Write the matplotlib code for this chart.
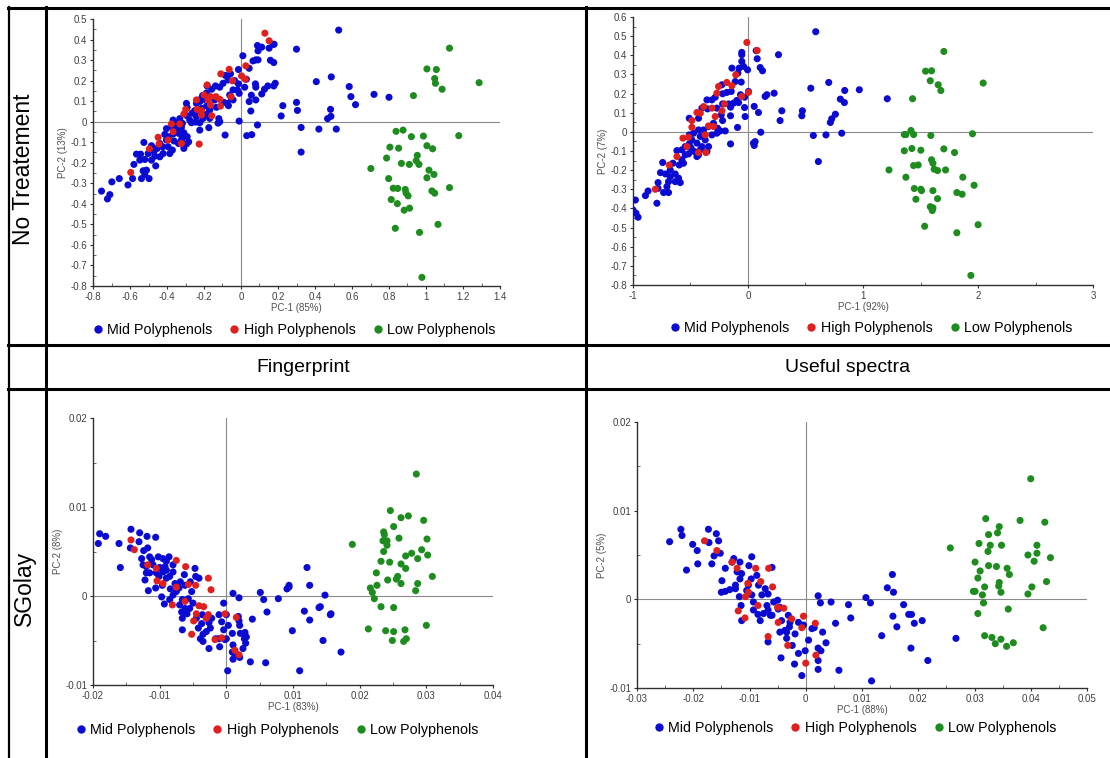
import numpy as np
import matplotlib
matplotlib.use("Agg")
import matplotlib.pyplot as plt
from matplotlib.lines import Line2D
from matplotlib.ticker import MultipleLocator, FuncFormatter

plt.rcParams['font.family'] = ['Liberation Sans', 'DejaVu Sans']

W, H = 1110, 758

# ---------------- data ----------------
groups = ["Mid Polyphenols", "High Polyphenols", "Low Polyphenols"]
colors = ["#0a0ad2", "#e0201e", "#1e8c1e"]
row_labels = ["No Treatement", "SGolay"]
col_labels = ["Fingerprint", "Useful spectra"]
x_titles = ["PC-1 (85%)", "PC-1 (92%)", "PC-1 (83%)", "PC-1 (88%)"]
y_titles = ["PC-2 (13%)", "PC-2 (7%)", "PC-2 (8%)", "PC-2 (5%)"]

# No treatment, fingerprint region (x, y)
nt_fp_mid = [
    (0.528, 0.446), (0.300, 0.353), (0.407, 0.195), (0.488, 0.218), (0.585, 0.171), (0.594, 0.122),
    (0.619, 0.083), (0.719, 0.133), (0.800, 0.119), (0.300, 0.094), (0.305, 0.055), (0.226, 0.078),
    (0.217, 0.028), (0.484, 0.060), (0.486, 0.026), (0.468, 0.015), (0.325, -0.028), (0.421, -0.036),
    (0.515, -0.036), (0.325, -0.148), (0.089, -0.016), (0.031, -0.068), (0.058, -0.063), (-0.010, 0.003),
    (-0.086, -0.065), (0.179, 0.377), (0.089, 0.371), (0.112, 0.363), (0.092, 0.345), (0.152, 0.358),
    (0.174, 0.377), (0.010, 0.321), (0.080, 0.301), (0.092, 0.301), (0.065, 0.296), (0.159, 0.299),
    (0.177, 0.288), (0.044, 0.260), (-0.014, 0.254), (-0.057, 0.233), (-0.084, 0.225), (-0.034, 0.200),
    (-0.014, 0.184), (0.020, 0.168), (0.029, 0.207), (0.078, 0.184), (0.080, 0.168), (0.127, 0.158),
    (0.145, 0.174), (0.185, 0.187), (0.177, 0.174), (0.112, 0.135), (0.056, 0.129), (0.080, 0.106),
    (0.044, 0.098), (0.053, 0.052), (-0.070, 0.203), (-0.097, 0.187), (-0.115, 0.168), (-0.138, 0.174),
    (-0.158, 0.158), (-0.019, 0.154), (-0.010, 0.138), (-0.061, 0.130), (-0.075, 0.089), (-0.068, 0.078),
    (-0.052, 0.112), (-0.183, 0.174), (-0.186, 0.140), (-0.201, 0.109), (-0.241, 0.089), (-0.221, 0.099),
    (-0.142, 0.106), (-0.186, 0.076), (-0.223, 0.057), (-0.250, 0.054), (-0.223, 0.041), (-0.192, 0.033),
    (-0.178, 0.041), (-0.205, 0.016), (-0.169, 0.016), (-0.120, 0.015), (-0.124, -0.007), (-0.115, 0.000),
    (-0.174, -0.029), (-0.223, -0.005), (-0.245, -0.002), (-0.268, -0.005), (-0.291, 0.028), (-0.295, 0.089),
    (-0.291, 0.068), (-0.265, 0.041), (-0.317, -0.008), (-0.331, 0.015), (-0.349, -0.005), (-0.367, 0.008),
    (-0.322, -0.028), (-0.349, -0.033), (-0.374, -0.024), (-0.403, -0.034), (-0.412, -0.062), (-0.392, -0.073),
    (-0.367, -0.060), (-0.336, -0.057), (-0.309, -0.054), (-0.291, -0.073), (-0.283, -0.098), (-0.317, -0.076),
    (-0.338, -0.106), (-0.309, -0.130), (-0.362, -0.094), (-0.403, -0.089), (-0.423, -0.122), (-0.439, -0.106),
    (-0.385, -0.155), (-0.453, -0.130), (-0.484, -0.117), (-0.471, -0.146), (-0.466, -0.168), (-0.484, -0.187),
    (-0.461, -0.215), (-0.502, -0.155), (-0.525, -0.101), (-0.543, -0.158), (-0.520, -0.184), (-0.529, -0.239),
    (-0.511, -0.236), (-0.520, -0.257), (-0.497, -0.277), (-0.538, -0.277), (-0.579, -0.208), (-0.586, -0.277),
    (-0.611, -0.308), (-0.658, -0.277), (-0.698, -0.293), (-0.709, -0.355), (-0.722, -0.376), (-0.754, -0.338),
    (-0.565, -0.158), (-0.547, -0.187), (-0.241, 0.024), (-0.277, 0.008), (-0.214, 0.065), (-0.169, 0.057),
    (-0.133, 0.070), (-0.208, 0.127), (-0.226, 0.106), (-0.093, 0.094), (-0.043, 0.155), (-0.043, 0.106),
    (-0.223, -0.041), (-0.371, -0.138), (-0.421, -0.155), (-0.394, -0.122), (-0.439, -0.171), (-0.322, -0.089),
    (-0.295, -0.109),
]
nt_fp_high = [
    (0.129, 0.431), (0.152, 0.394), (0.026, 0.272), (0.003, 0.223), (0.023, 0.207), (-0.064, 0.255),
    (-0.109, 0.233), (-0.046, 0.199), (-0.183, 0.179), (-0.199, 0.130), (-0.165, 0.122), (-0.136, 0.122),
    (-0.115, 0.109), (-0.111, 0.076), (-0.054, 0.122), (-0.241, 0.106), (-0.237, 0.060), (-0.214, 0.054),
    (-0.299, 0.060), (-0.309, 0.037), (-0.165, 0.081), (-0.214, 0.033), (-0.158, 0.029), (-0.376, -0.011),
    (-0.331, -0.011), (-0.367, -0.049), (-0.394, -0.089), (-0.448, -0.076), (-0.443, -0.109), (-0.495, -0.132),
    (-0.322, -0.106), (-0.226, -0.109), (-0.596, -0.247), (-0.178, 0.106),
]
nt_fp_low = [
    (1.127, 0.358), (1.005, 0.257), (1.056, 0.254), (1.047, 0.210), (1.051, 0.187), (1.087, 0.158),
    (1.287, 0.190), (0.932, 0.127), (0.838, -0.047), (0.876, -0.041), (0.986, -0.070), (0.921, -0.073),
    (1.177, -0.068), (1.005, -0.117), (1.036, -0.132), (0.805, -0.124), (0.852, -0.129), (0.787, -0.177),
    (0.953, -0.164), (0.947, -0.190), (0.962, -0.208), (0.867, -0.203), (0.910, -0.208), (0.702, -0.228),
    (1.016, -0.236), (1.043, -0.257), (0.798, -0.277), (1.005, -0.273), (0.823, -0.324), (0.847, -0.325),
    (0.888, -0.330), (0.892, -0.347), (0.903, -0.361), (1.032, -0.337), (1.047, -0.348), (1.127, -0.321),
    (0.812, -0.379), (0.845, -0.399), (0.911, -0.421), (0.882, -0.431), (0.834, -0.519), (0.965, -0.539),
    (1.065, -0.500), (0.978, -0.758),
]

# No treatment, useful spectra (x, y)
nt_us_mid = [
    (0.589, 0.523), (0.265, 0.403), (0.546, 0.228), (0.702, 0.258), (0.841, 0.216), (0.968, 0.220),
    (0.803, 0.171), (0.838, 0.153), (0.760, 0.092), (0.728, 0.068), (0.716, 0.049), (0.473, 0.110),
    (0.468, 0.084), (0.294, 0.110), (0.279, 0.059), (1.211, 0.173), (0.568, -0.019), (0.678, -0.016),
    (0.815, -0.007), (0.612, -0.155), (0.111, -0.002), (0.062, -0.051), (0.054, -0.071), (0.048, -0.059),
    (0.227, 0.202), (0.164, 0.194), (0.149, 0.185), (0.091, 0.101), (0.054, 0.133), (-0.025, 0.080),
    (-0.091, 0.023), (-0.152, -0.063), (0.071, 0.424), (0.080, 0.382), (0.106, 0.336), (0.126, 0.319),
    (-0.054, 0.415), (-0.054, 0.403), (-0.054, 0.368), (-0.039, 0.342), (-0.004, 0.324), (-0.140, 0.333),
    (-0.077, 0.333), (-0.088, 0.307), (-0.111, 0.263), (-0.059, 0.260), (0.004, 0.211), (-0.065, 0.194),
    (-0.146, 0.211), (-0.184, 0.206), (-0.227, 0.246), (-0.221, 0.199), (-0.030, 0.181), (-0.097, 0.164),
    (-0.082, 0.153), (-0.126, 0.150), (-0.169, 0.146), (-0.221, 0.146), (-0.285, 0.181), (-0.314, 0.167),
    (-0.357, 0.167), (-0.401, 0.124), (-0.352, 0.120), (-0.271, 0.124), (-0.233, 0.089), (-0.152, 0.129),
    (-0.152, 0.084), (-0.030, 0.127), (-0.221, 0.059), (-0.265, 0.019), (-0.242, 0.005), (-0.198, 0.005),
    (-0.300, 0.045), (-0.343, 0.028), (-0.386, 0.010), (-0.430, 0.071), (-0.511, 0.071), (-0.430, 0.010),
    (-0.473, -0.007), (-0.415, -0.024), (-0.488, -0.042), (-0.444, -0.059), (-0.511, -0.063), (-0.546, -0.077),
    (-0.494, -0.085), (-0.415, -0.094), (-0.430, -0.120), (-0.517, -0.115), (-0.575, -0.094), (-0.546, -0.120),
    (-0.618, -0.098), (-0.575, -0.146), (-0.598, -0.173), (-0.561, -0.164), (-0.653, -0.164), (-0.676, -0.199),
    (-0.742, -0.160), (-0.761, -0.213), (-0.717, -0.220), (-0.676, -0.234), (-0.633, -0.220), (-0.604, -0.242),
    (-0.589, -0.265), (-0.633, -0.260), (-0.691, -0.260), (-0.782, -0.265), (-0.705, -0.286), (-0.782, -0.295),
    (-0.734, -0.317), (-0.691, -0.317), (-0.792, -0.373), (-0.869, -0.309), (-0.892, -0.333), (-0.979, -0.356),
    (-1.000, -0.408), (-0.974, -0.425), (-0.956, -0.446), (-0.372, -0.042), (-0.343, -0.077), (-0.444, -0.129),
    (-0.517, -0.077), (-0.465, -0.103), (-0.401, -0.077), (-0.357, -0.103), (-0.511, -0.016), (-0.271, -0.007),
    (-0.314, -0.016),
]
nt_us_high = [
    (-0.010, 0.467), (0.080, 0.425), (-0.106, 0.298), (-0.184, 0.258), (-0.256, 0.237), (-0.271, 0.202),
    (-0.140, 0.241), (-0.054, 0.185), (0.004, 0.206), (-0.204, 0.146), (-0.314, 0.124), (-0.386, 0.132),
    (-0.444, 0.101), (-0.415, 0.098), (-0.227, 0.110), (-0.285, 0.080), (-0.300, 0.028), (-0.343, 0.031),
    (-0.488, 0.024), (-0.372, -0.016), (-0.517, -0.028), (-0.566, -0.033), (-0.531, -0.077), (-0.366, -0.108),
    (-0.618, -0.129), (-0.685, -0.173), (-0.806, -0.300), (-0.430, -0.108), (-0.488, 0.059),
]
nt_us_low = [
    (1.703, 0.420), (1.544, 0.317), (1.596, 0.319), (1.585, 0.267), (1.654, 0.246), (1.677, 0.216),
    (2.045, 0.255), (1.431, 0.173), (1.417, 0.007), (1.359, -0.014), (1.373, -0.014), (1.440, -0.014),
    (1.590, -0.019), (1.952, -0.010), (1.359, -0.099), (1.425, -0.087), (1.503, -0.096), (1.703, -0.089),
    (1.796, -0.108), (1.440, -0.176), (1.480, -0.173), (1.596, -0.146), (1.608, -0.164), (1.619, -0.195),
    (1.648, -0.202), (1.718, -0.199), (1.226, -0.199), (1.373, -0.237), (1.868, -0.237), (1.966, -0.279),
    (1.446, -0.296), (1.503, -0.300), (1.509, -0.307), (1.608, -0.307), (1.816, -0.317), (1.862, -0.326),
    (1.460, -0.352), (1.648, -0.349), (1.585, -0.391), (1.608, -0.397), (1.602, -0.411), (1.536, -0.493),
    (2.001, -0.485), (1.816, -0.527), (1.938, -0.750),
]

# SGolay scores are listed in units of 1e-3
SG_UNIT = 1e-3

sg_fp_mid = [
    (12.1, 3.2), (12.5, 1.2), (9.4, 1.2), (9.4, 1.0), (9.1, 0.8), (14.8, 0.1), (5.1, 0.4), (5.6, -0.4),
    (7.8, -0.3), (6.1, -1.8), (11.7, -1.7), (12.5, -2.7), (13.9, -1.3), (14.1, -1.2), (15.6, -2.1),
    (15.7, -2.0), (9.9, -3.9), (14.5, -5.0), (17.2, -6.3), (11.0, -8.4), (5.9, -7.5), (3.6, -7.4),
    (0.2, -8.4), (3.9, -2.6), (1.0, 0.3), (1.9, -0.2), (-19.0, 7.0), (-19.2, 5.9), (-18.1, 6.7),
    (-16.1, 5.9), (-15.9, 3.2), (-14.3, 7.5), (-13.0, 7.1), (-14.4, 5.4), (-13.1, 6.1), (-11.9, 6.7),
    (-10.6, 6.6), (-12.4, 5.1), (-11.8, 5.4), (-11.5, 4.4), (-12.7, 4.2), (-12.5, 3.5), (-12.0, 3.3),
    (-11.5, 2.6), (-12.2, 1.8), (-11.7, 0.6), (-10.6, 0.9), (-10.2, 4.4), (-9.5, 4.2), (-9.0, 3.9),
    (-8.6, 4.4), (-10.0, 3.2), (-9.5, 2.7), (-10.1, 2.2), (-9.0, 2.0), (-9.6, 1.2), (-8.5, 2.2),
    (-8.0, 2.7), (-7.7, 1.4), (-8.4, 0.8), (-7.1, 0.9), (-9.7, -0.1), (-9.3, -0.9), (-8.5, -0.4),
    (-7.5, 0.5), (-6.9, 1.6), (-6.3, 2.4), (-5.4, 1.6), (-4.7, 3.1), (-4.6, 2.2), (-5.2, 0.5),
    (-6.6, -0.4), (-7.0, -1.0), (-6.7, -1.8), (-6.2, -1.4), (-5.5, -1.4), (-5.0, -0.8), (-6.6, -3.8),
    (-4.5, -2.5), (-4.2, -3.6), (-3.7, -3.1), (-3.9, -4.8), (-3.5, -5.1), (-3.0, -4.0), (-2.2, -2.5),
    (-2.4, -3.6), (-1.6, -4.8), (-1.1, -2.1), (-0.7, -2.9), (-0.4, -3.8), (-0.4, -0.8), (0.0, -2.1),
    (0.3, -3.3), (0.0, -4.8), (0.9, -4.2), (1.0, -5.5), (0.9, -6.3), (1.3, -6.6), (1.0, -7.1),
    (1.9, -2.8), (2.0, -3.3), (2.1, -4.2), (2.8, -4.1), (2.7, -4.8), (3.0, -4.6), (2.9, -5.3),
    (2.5, -5.9), (2.0, -6.9), (1.8, -2.3), (-2.6, -3.0), (-3.6, -2.1), (-1.1, -4.8), (-2.6, -5.9),
    (-1.0, -5.7), (-0.2, -4.9), (-3.5, -4.3), (-8.0, 3.5), (-10.5, 2.6), (-11.0, 3.5), (-9.2, 3.3),
    (-6.2, 1.2), (-5.7, -0.3), (-4.1, 2.0), (-8.0, 0.1), (-9.0, 2.9), (-11.2, 4.1), (-6.6, -2.5),
    (-5.9, -2.0), (-12.0, 2.6),
]
sg_fp_high = [
    (-14.3, 6.3), (-13.8, 5.2), (-11.8, 3.5), (-10.5, 3.1), (-10.4, 1.7), (-9.5, 1.4), (-7.5, 4.0),
    (-6.1, 3.3), (-4.6, 1.2), (-2.7, 2.0), (-2.3, 0.7), (-8.1, -1.0), (-5.7, 1.3), (-6.2, -0.6),
    (-4.1, -1.1), (-3.4, -1.2), (-4.5, -2.0), (-4.9, -2.8), (-2.7, -2.1), (-3.0, -2.5), (-5.2, -4.3),
    (-1.7, -4.9), (-0.2, -2.0), (-0.7, -4.7), (1.5, -2.4), (1.9, -6.6), (1.3, -6.1), (-7.5, 1.0),
]
sg_fp_low = [
    (28.5, 13.7), (24.6, 9.6), (26.2, 8.8), (27.3, 9.0), (29.6, 8.5), (25.1, 7.8), (23.6, 7.2),
    (23.7, 6.9), (23.5, 6.2), (24.1, 6.2), (24.1, 5.7), (25.9, 6.5), (30.1, 6.4), (18.9, 5.8),
    (23.6, 5.0), (29.3, 5.2), (27.8, 4.8), (26.9, 4.5), (30.2, 4.6), (28.7, 4.2), (23.2, 3.9),
    (24.5, 3.8), (26.2, 3.6), (26.9, 3.1), (22.5, 2.6), (25.7, 2.2), (25.5, 1.9), (24.2, 1.8),
    (30.9, 2.2), (28.7, 1.4), (22.6, 1.2), (26.2, 1.4), (21.6, 0.9), (21.9, 0.4), (28.4, 0.6),
    (22.2, -0.3), (23.2, -1.2), (25.1, -1.3), (30.0, -3.3), (21.3, -3.7), (23.9, -3.9), (25.1, -4.0),
    (26.8, -3.8), (24.9, -5.0), (26.6, -5.1), (27.0, -4.8),
]

sg_us_mid = [
    (15.4, 2.8), (14.5, 1.3), (15.6, 0.8), (10.7, 0.2), (11.5, -0.4), (4.5, -0.3), (7.6, -0.6),
    (17.4, -0.6), (15.5, -1.9), (18.3, -1.7), (18.8, -1.7), (20.7, -2.4), (19.3, -2.7), (16.2, -3.1),
    (8.0, -2.1), (5.3, -2.7), (13.5, -4.1), (18.7, -5.5), (21.7, -6.9), (26.7, -4.4), (11.7, -9.2),
    (5.9, -8.0), (2.2, 0.4), (2.6, -0.4), (-24.2, 6.5), (-22.2, 7.9), (-22.0, 7.2), (-20.1, 6.2),
    (-21.2, 3.3), (-19.2, 4.0), (-19.3, 5.5), (-17.3, 7.9), (-17.2, 6.4), (-15.9, 7.4), (-15.5, 6.6),
    (-16.3, 4.9), (-16.7, 4.0), (-15.7, 5.3), (-15.2, 5.2), (-14.9, 2.1), (-14.3, 3.5), (-14.3, 0.9),
    (-13.5, 1.1), (-12.8, 4.6), (-13.1, 4.2), (-12.2, 3.1), (-11.7, 4.2), (-11.4, 2.9), (-11.7, 2.3),
    (-12.5, 1.2), (-11.8, 0.3), (-11.5, -0.7), (-11.4, -2.4), (-9.6, 4.8), (-10.1, 3.8), (-9.7, 2.3),
    (-10.2, 1.6), (-9.6, 0.5), (-8.7, 2.7), (-8.4, 1.6), (-9.3, -0.3), (-9.3, -1.2), (-8.5, -1.7),
    (-8.1, -2.4), (-7.2, 1.2), (-6.9, -0.7), (-6.3, -1.8), (-6.7, 0.6), (-5.7, -0.3), (-5.0, -0.1),
    (-4.6, -0.9), (-4.3, -2.4), (-3.7, -3.5), (-2.9, -3.1), (-4.6, -3.7), (-4.4, -6.6), (-3.4, -4.4),
    (-2.4, -5.2), (-1.9, -3.9), (-2.0, -7.3), (-1.3, -6.1), (-0.7, -8.6), (-1.3, -2.6), (-0.4, -2.9),
    (-0.1, -5.8), (0.5, -4.6), (1.1, -3.3), (1.5, -3.2), (2.2, -5.5), (2.7, -5.8), (3.0, -3.7),
    (3.6, -4.9), (2.2, -7.9), (2.2, -6.9), (-6.7, -4.8), (-7.5, -1.6), (-6.7, -1.2), (-6.0, 3.6),
    (-7.8, 0.5), (-15.0, 0.8), (-10.5, 1.0), (-12.5, 1.6), (-2.8, -2.6), (-3.1, -1.8), (-3.4, -3.7),
    (-4.9, -1.1), (-6.0, -1.8),
]
sg_us_high = [
    (-18.0, 6.6), (-15.8, 5.5), (-13.1, 4.2), (-12.2, 3.5), (-8.9, 3.5), (-6.6, 3.5), (-5.9, 1.4),
    (-8.0, 2.0), (-10.3, 1.8), (-10.7, 0.3), (-12.0, -1.3), (-10.8, -2.1), (-8.5, -0.7), (-5.0, -0.9),
    (-4.9, -2.6), (-6.7, -4.2), (-3.2, -5.2), (-3.9, -1.0), (-2.5, -2.2), (-0.7, -3.2), (-0.4, -1.9),
    (1.7, -2.7), (1.8, -6.3), (0.0, -7.2), (-10.2, 0.8),
]
sg_us_low = [
    (40.0, 13.6), (32.0, 9.1), (38.1, 8.9), (42.5, 8.7), (34.4, 8.2), (32.5, 7.3), (34.1, 7.5),
    (30.8, 6.3), (32.8, 6.1), (34.8, 6.1), (41.1, 6.1), (25.7, 5.8), (32.4, 5.4), (39.5, 5.0),
    (41.1, 5.2), (43.5, 4.7), (30.1, 4.2), (40.6, 4.3), (32.5, 3.8), (33.9, 3.7), (35.8, 3.5),
    (31.0, 3.2), (36.2, 2.8), (30.6, 2.4), (42.8, 2.0), (34.4, 1.9), (34.3, 1.5), (31.8, 1.4),
    (40.2, 1.4), (29.8, 0.9), (30.1, 0.9), (34.7, 0.8), (31.4, 0.5), (39.5, 0.6), (31.6, -0.4),
    (36.0, -1.1), (30.6, -1.6), (42.2, -3.2), (31.8, -4.1), (33.1, -4.3), (34.7, -4.5), (33.7, -5.0),
    (36.9, -4.9), (35.7, -5.3),
]

# ---------------- layout ----------------
fig = plt.figure(figsize=(W / 100, H / 100), dpi=100)
fig.patch.set_facecolor("white")


def px_axes(x0, y0, x1, y1):
    return fig.add_axes([x0 / W, 1 - y1 / H, (x1 - x0) / W, (y1 - y0) / H])


def fmt(v, pos):
    s = f"{round(v, 6):g}"
    return "0" if s in ("-0", "0") else s


panels = [
    dict(box=(93, 19, 500, 286), data=(nt_fp_mid, nt_fp_high, nt_fp_low), unit=1.0,
         xlim=(-0.8, 1.4), ylim=(-0.8, 0.5), xmaj=0.2, xmin=0.1, ymaj=0.1, ymin=0.05,
         leg=(294, 330)),
    dict(box=(633, 17, 1093, 285), data=(nt_us_mid, nt_us_high, nt_us_low), unit=1.0,
         xlim=(-1, 3), ylim=(-0.8, 0.6), xmaj=1, xmin=0.5, ymaj=0.1, ymin=0.05,
         leg=(871, 328)),
    dict(box=(93, 418, 493, 685), data=(sg_fp_mid, sg_fp_high, sg_fp_low), unit=SG_UNIT,
         xlim=(-0.02, 0.04), ylim=(-0.01, 0.02), xmaj=0.01, xmin=0.005, ymaj=0.01, ymin=0.005,
         leg=(277, 730)),
    dict(box=(637, 422, 1087, 688), data=(sg_us_mid, sg_us_high, sg_us_low), unit=SG_UNIT,
         xlim=(-0.03, 0.05), ylim=(-0.01, 0.02), xmaj=0.01, xmin=0.005, ymaj=0.01, ymin=0.005,
         leg=(855, 728)),
]

for i, p in enumerate(panels):
    ax = px_axes(*p["box"])
    ax.set_xlim(*p["xlim"])
    ax.set_ylim(*p["ylim"])
    ax.axhline(0, color="#8a8a8a", lw=0.8, zorder=1)
    ax.axvline(0, color="#8a8a8a", lw=0.8, zorder=1)
    for pts, c in zip(p["data"], colors):
        arr = np.array(pts) * p["unit"]
        ax.scatter(arr[:, 0], arr[:, 1], s=26, color=c, edgecolors="none", zorder=3)
    for side in ("top", "right"):
        ax.spines[side].set_visible(False)
    for side in ("left", "bottom"):
        ax.spines[side].set_color("#303030")
        ax.spines[side].set_linewidth(1.0)
    ax.xaxis.set_major_locator(MultipleLocator(p["xmaj"]))
    ax.xaxis.set_minor_locator(MultipleLocator(p["xmin"]))
    ax.yaxis.set_major_locator(MultipleLocator(p["ymaj"]))
    ax.yaxis.set_minor_locator(MultipleLocator(p["ymin"]))
    ax.xaxis.set_major_formatter(FuncFormatter(fmt))
    ax.yaxis.set_major_formatter(FuncFormatter(fmt))
    ax.tick_params(which="major", direction="out", length=2.5, width=0.8, color="#303030",
                   labelsize=7, labelcolor="#404040", pad=1.5)
    ax.tick_params(which="minor", direction="in", length=2, width=0.6, color="#505050")
    ax.set_xlabel(x_titles[i], fontsize=7, color="#505050", labelpad=1)
    ax.set_ylabel(y_titles[i], fontsize=7, color="#505050", labelpad=2)
    ax.set_facecolor("none")

    handles = [Line2D([], [], marker="o", ls="none", color=c, markersize=6, markeredgewidth=0)
               for c in colors]
    fig.legend(handles, groups, loc="center",
               bbox_to_anchor=(p["leg"][0] / W, 1 - p["leg"][1] / H),
               ncol=3, frameon=False, fontsize=10.3, handlelength=0.7, handletextpad=0.3,
               columnspacing=1.2, borderaxespad=0, borderpad=0)

# ---------------- table frame ----------------
frame_lw = 2.2
def hline(y, x0=8, x1=W, lw=frame_lw):
    fig.add_artist(Line2D([x0 / W, x1 / W], [1 - y / H, 1 - y / H], color="black", lw=lw))

def vline(x, y0=7, y1=H, lw=frame_lw):
    fig.add_artist(Line2D([x / W, x / W], [1 - y0 / H, 1 - y1 / H], color="black", lw=lw))

hline(8)
hline(345)
hline(389)
vline(9, lw=1.6)
vline(45.5)
vline(585.5)

fig.text(24 / W, 1 - 169 / H, row_labels[0], rotation=90, ha="center", va="center", fontsize=16.5)
fig.text(24 / W, 1 - 588 / H, row_labels[1], rotation=90, ha="center", va="center", fontsize=16.5)
fig.text(303 / W, 1 - 367 / H, col_labels[0], ha="center", va="center", fontsize=14)
fig.text(848 / W, 1 - 367 / H, col_labels[1], ha="center", va="center", fontsize=14)

fig.savefig("out.png", dpi=100, facecolor="white")
